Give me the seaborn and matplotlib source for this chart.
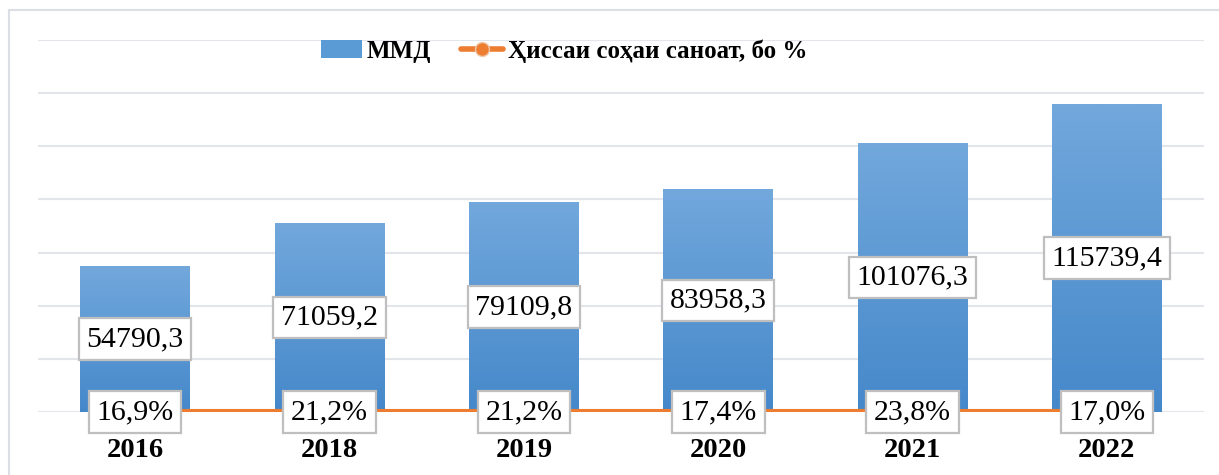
import numpy as np
import pandas as pd
import matplotlib
matplotlib.use("Agg")
import matplotlib.pyplot as plt
import seaborn as sns
from matplotlib.patches import Patch, Rectangle
from matplotlib.lines import Line2D
from matplotlib.colors import LinearSegmentedColormap

years = ["2016", "2018", "2019", "2020", "2021", "2022"]
gdp = [54790.3, 71059.2, 79109.8, 83958.3, 101076.3, 115739.4]
share = [16.9, 21.2, 21.2, 17.4, 23.8, 17.0]
gdp_labels = ["54790,3", "71059,2", "79109,8", "83958,3", "101076,3", "115739,4"]
share_labels = ["16,9%", "21,2%", "21,2%", "17,4%", "23,8%", "17,0%"]
legend_labels = ["ММД", "Ҳиссаи соҳаи саноат, бо %"]

sns.set_theme(style="white")
serif = ["Liberation Serif", "DejaVu Serif"]
plt.rcParams["font.family"] = serif

W, H = 1219, 475
fig = plt.figure(figsize=(W / 100, H / 100), dpi=100)
ax = fig.add_axes([38 / W, 1 - 412 / H, (1204 - 38) / W, (412 - 40) / H])

df = pd.DataFrame({"year": years, "gdp": gdp, "share": share})
bar_color = "#5B9BD5"
sns.barplot(data=df, x="year", y="gdp", color=bar_color, width=0.565,
            saturation=1, ax=ax, zorder=2)

# gradient fill on bars
cmap = LinearSegmentedColormap.from_list("g", ["#4588CA", "#72A8DC"])
grad = np.linspace(0, 1, 256).reshape(-1, 1)
for p in ax.patches:
    x0, y0 = p.get_x(), p.get_y()
    w, h = p.get_width(), p.get_height()
    im = ax.imshow(grad, cmap=cmap, origin="lower", aspect="auto",
                   extent=[x0, x0 + w, y0, y0 + h], zorder=2.1)
    im.set_clip_path(p)
    p.set_edgecolor("none")

sns.lineplot(x=np.arange(len(years)), y=share, ax=ax, color="#ED7D31",
             linewidth=4.3, marker="o", markersize=9, zorder=3, legend=False)

ax.set_xlim(-0.5, len(years) - 0.5)
ax.set_ylim(0, 140000)
ax.set_yticks(np.arange(0, 140001, 20000))
ax.set_yticklabels([])
ax.tick_params(axis="y", length=0)
ax.grid(axis="y", color="#E2E5EA", linewidth=1.5, zorder=0)
ax.set_axisbelow(True)
for s in ax.spines.values():
    s.set_visible(False)
ax.set_xlabel("")
ax.set_ylabel("")
ax.tick_params(axis="x", length=0, pad=18.5)
for lbl in ax.get_xticklabels():
    lbl.set_fontweight("bold")
    lbl.set_fontsize(20.5)
    lbl.set_family(serif)
    lbl.set_color("black")

box = dict(boxstyle="square,pad=0.26", facecolor="white",
           edgecolor="#BFBFBF", linewidth=1.6)
for i in range(len(years)):
    ax.text(i, gdp[i] / 2, gdp_labels[i], ha="center", va="center",
            fontsize=21.5, family=serif, color="black", bbox=box, zorder=5)
    ax.text(i, share[i], share_labels[i], ha="center", va="center",
            fontsize=21.5, family=serif, color="black", bbox=box, zorder=5)

# outer chart frame
fig.patches.append(Rectangle((9 / W, -0.1), 1.2, 1 - 10 / H + 0.1,
                             transform=fig.transFigure, fill=False,
                             edgecolor="#DCE0E6", linewidth=1.5))

handles = [Patch(facecolor=bar_color, edgecolor="none"),
           Line2D([0], [0], color="#ED7D31", linewidth=4, marker="o",
                  markersize=10, markeredgecolor="#F0C8A8")]
leg = fig.legend(handles, legend_labels, loc="center", ncol=2,
                 bbox_to_anchor=(564 / W, 1 - 51 / H), frameon=False,
                 prop={"family": serif, "weight": "bold", "size": 18},
                 handlelength=1.65, handletextpad=0.2, columnspacing=1.2)
for t in leg.get_texts():
    t.set_color("black")

fig.savefig("out.png", dpi=100)
